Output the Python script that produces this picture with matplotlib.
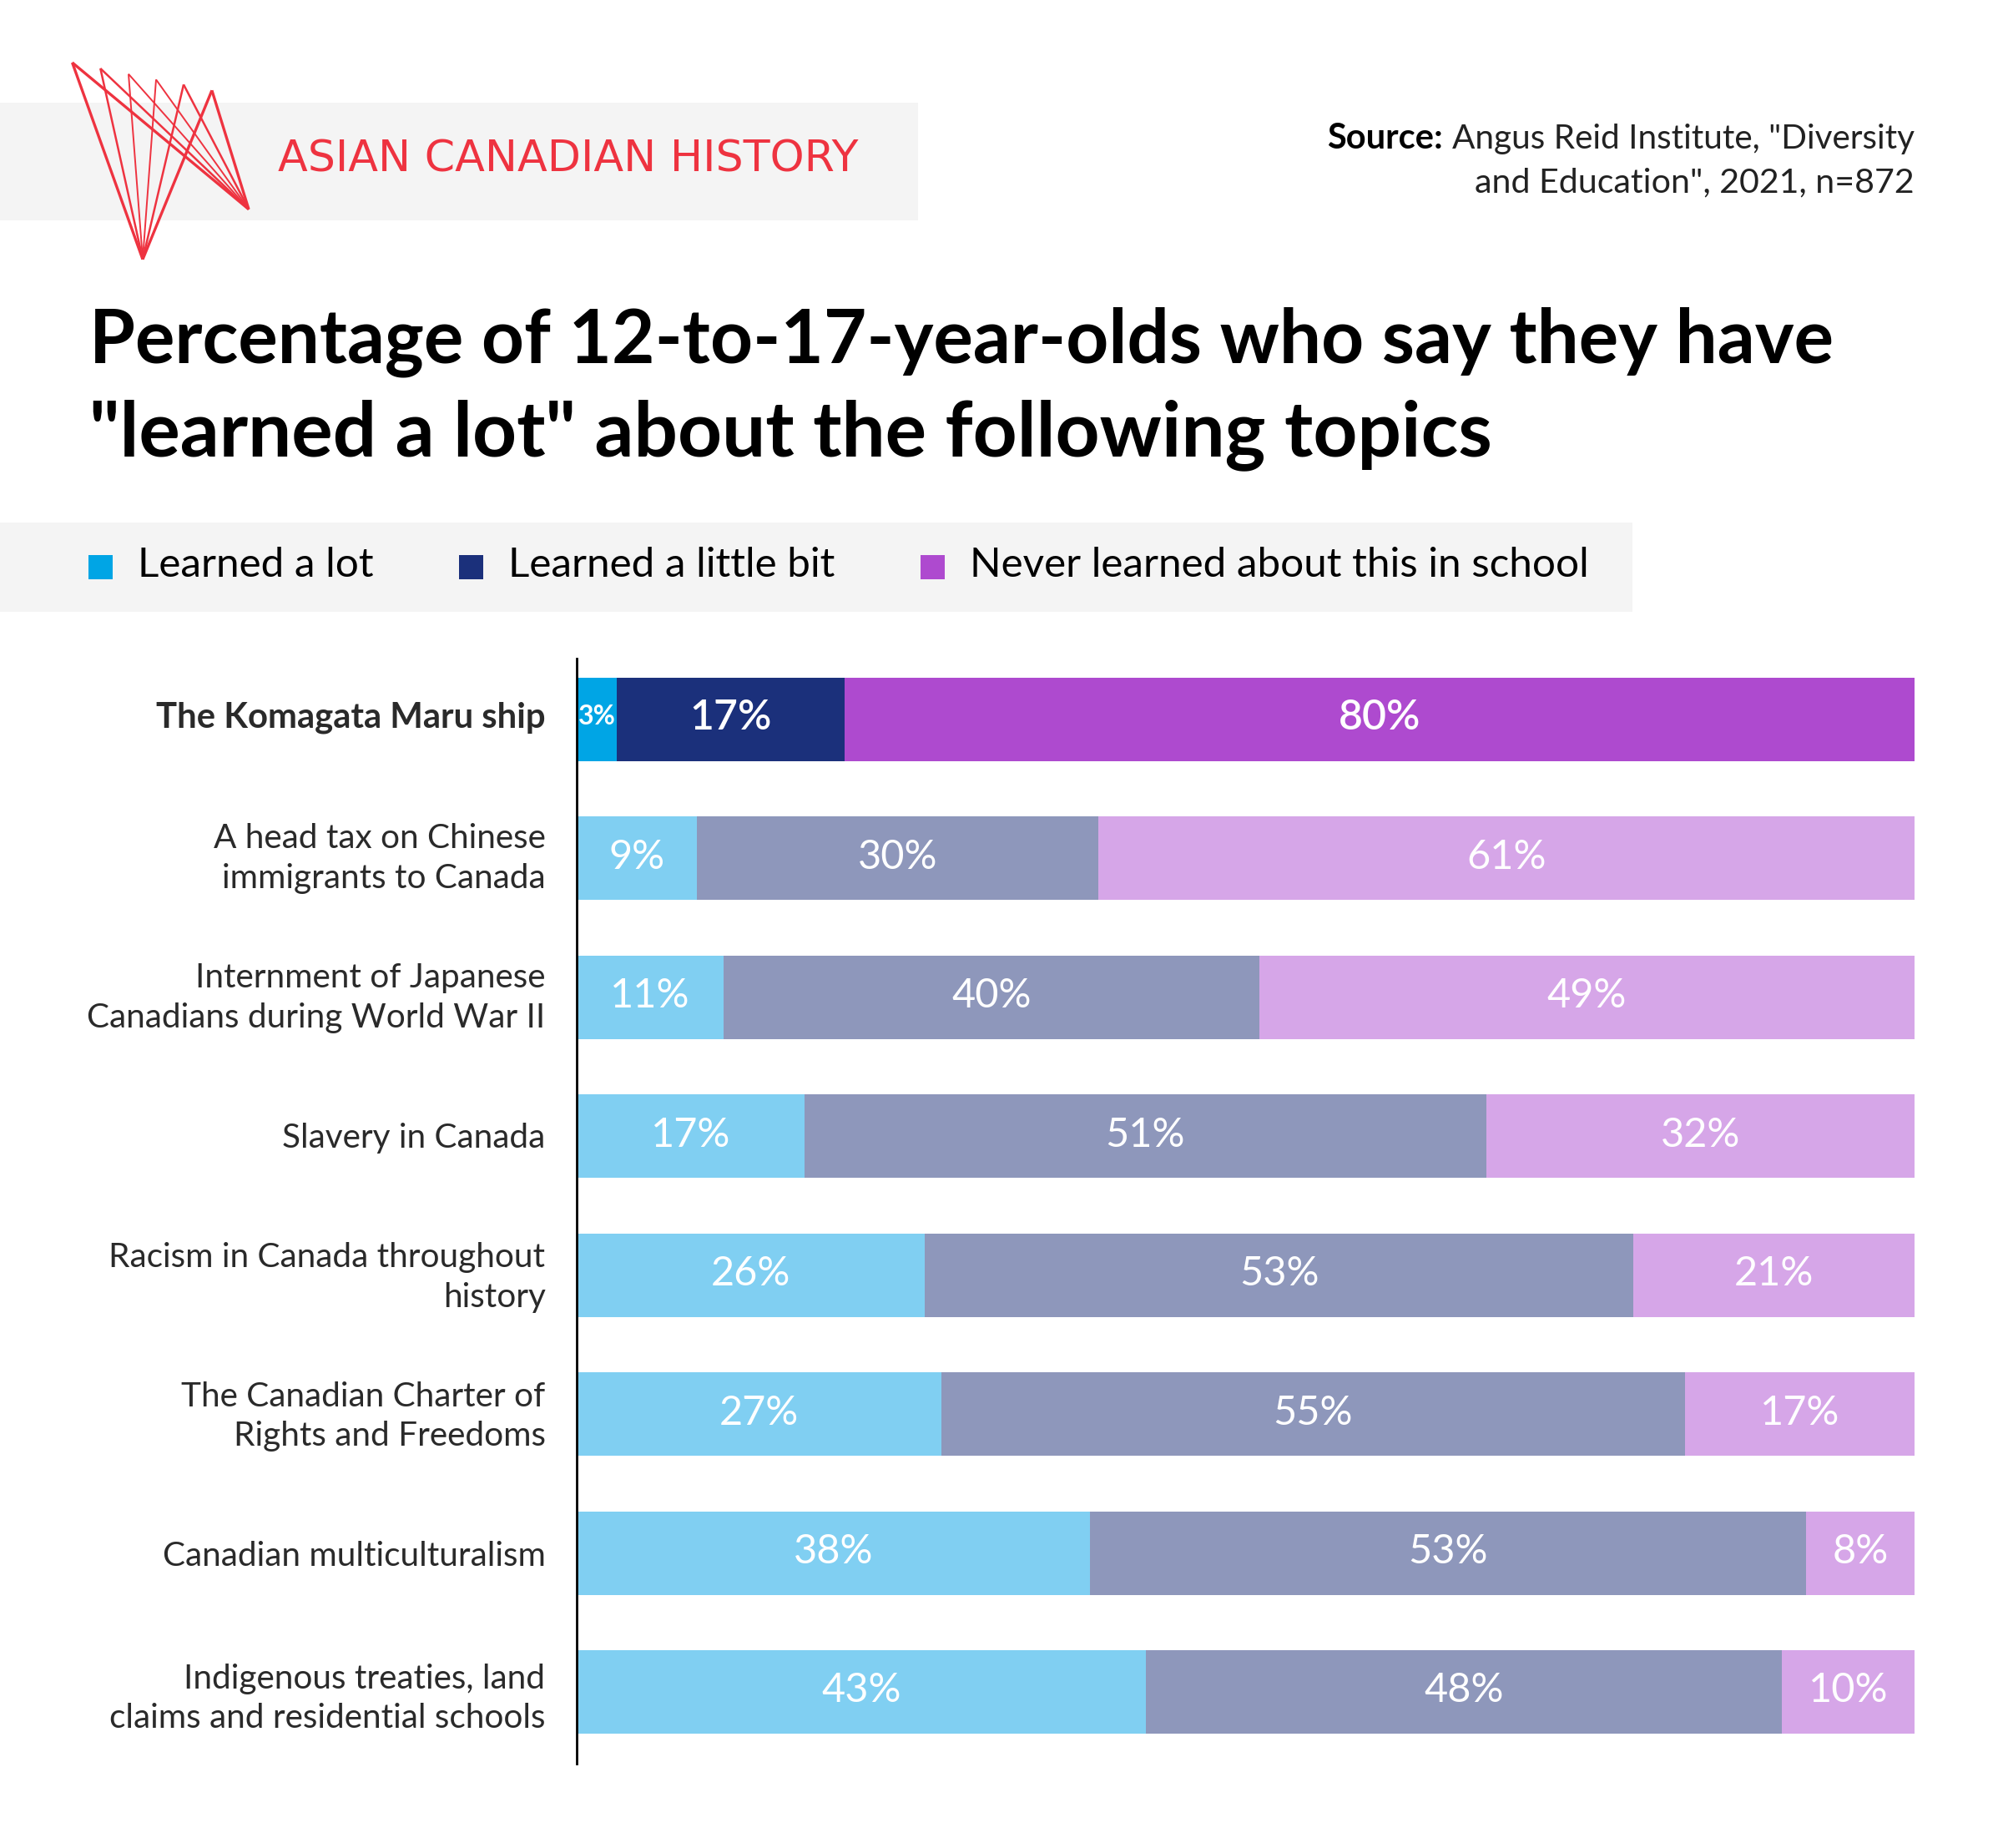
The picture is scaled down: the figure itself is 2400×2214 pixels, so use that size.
import matplotlib.pyplot as plt
from matplotlib.patches import Rectangle
from matplotlib.transforms import ScaledTranslation
import numpy as np

plt.rcParams["font.family"] = ["Lato", "DejaVu Sans"]

# -------------------------
# Data
# -------------------------
topics = [
    "The Komagata Maru ship",
    "A head tax on Chinese\nimmigrants to Canada",
    "Internment of Japanese\nCanadians during World War II",
    "Slavery in Canada",
    "Racism in Canada throughout\nhistory",
    "The Canadian Charter of\nRights and Freedoms",
    "Canadian multiculturalism",
    "Indigenous treaties, land\nclaims and residential schools",
]
learned_lot = [3, 9, 11, 17, 26, 27, 38, 43]
learned_little = [17, 30, 40, 51, 53, 55, 53, 48]
never_learned = [80, 61, 49, 32, 21, 17, 8, 10]
series_names = ["Learned a lot", "Learned a little bit", "Never learned about this in school"]

FULL_COLORS = ["#00A5E5", "#1B307B", "#AE4ACF"]
LIGHT_COLORS = ["#80CFF2", "#8E97BB", "#D6A6E8"]
RED = "#EE3340"
BAND = "#F4F4F4"

W, H = 2400, 2214
fig = plt.figure(figsize=(W / 200, H / 200), dpi=200)

# overlay in pixel coordinates for the header stuff
bg = fig.add_axes([0, 0, 1, 1])
bg.set_xlim(0, W)
bg.set_ylim(H, 0)
bg.axis("off")

# -------------------------
# Header
# -------------------------
bg.add_patch(Rectangle((0, 123), 1100, 141, color=BAND, lw=0))
bg.add_patch(Rectangle((0, 626), 1956, 107, color=BAND, lw=0))

logo_x = [86.6, 120.3, 154, 187, 220, 253.9]
logo_y = [75, 82, 88.7, 95.3, 101.3, 108.3]
logo_lw = [1.2, 0.9, 0.7, 0.7, 0.9, 1.2]
for x, y, lw in zip(logo_x, logo_y, logo_lw):
    bg.plot([x, 171], [y, 310.7], color=RED, lw=lw, solid_capstyle="butt")
    bg.plot([x, 298], [y, 250.7], color=RED, lw=lw, solid_capstyle="butt")

bg.text(333, 205, "ASIAN CANADIAN HISTORY", color=RED, fontsize=18.8, family="DejaVu Sans",
        va="baseline", ha="left")

src = bg.text(2294, 178, 'Angus Reid Institute, "Diversity', fontsize=14.6, color="#222222",
              ha="right", va="baseline")
bg.text(2294, 230, 'and Education", 2021, n=872', fontsize=14.8, color="#222222",
        ha="right", va="baseline")
fig.canvas.draw()
src_left = src.get_window_extent().x0
bg.text(src_left - 11, 178, "Source:", fontsize=15, fontweight="bold", color="black",
        ha="right", va="baseline")

bg.text(107, 434, "Percentage of 12-to-17-year-olds who say they have", fontsize=32,
        fontweight="bold", color="black", va="baseline")
bg.text(107, 546, '"learned a lot" about the following topics', fontsize=33.3,
        fontweight="bold", color="black", va="baseline")

# -------------------------
# Legend
# -------------------------
for name, col, sx, tx in zip(series_names, FULL_COLORS, [106, 550, 1103], [165, 609, 1162]):
    bg.add_patch(Rectangle((sx, 665), 29, 29, color=col, lw=0))
    bg.text(tx, 691, name, fontsize=17.8, color="black", va="baseline")

# -------------------------
# Stacked bars
# -------------------------
ax = fig.add_axes([691 / W, 1 - 2113 / H, (2294 - 691) / W, (2113 - 789) / H])
ax.patch.set_alpha(0)

values = np.array([learned_lot, learned_little, never_learned], dtype=float)
shares = values / values.sum(axis=0) * 100
ypos = np.arange(len(topics))

left = np.zeros(len(topics))
for k in range(3):
    cols = [FULL_COLORS[k]] + [LIGHT_COLORS[k]] * (len(topics) - 1)
    ax.barh(ypos, shares[k], left=left, height=100 / 166.43, color=cols, lw=0)
    for i in ypos:
        size, weight, off = 17.5, "normal", 0.075
        if i == 0:
            size, weight = 18, "semibold"
            if k == 0:
                size, weight, off = 11.5, "bold", 0.036
        ax.text(left[i] + shares[k][i] / 2, i + off, f"{int(values[k][i])}%", color="white",
                ha="center", va="baseline", fontsize=size, fontweight=weight)
    left += shares[k]

ax.set_xlim(0, 100)
ax.set_ylim(7.5167, -0.4386)
ax.set_xticks([])
ax.set_yticks(ypos)
ax.set_yticklabels(topics, fontsize=14.6, color="#2a2a2a", linespacing=1.36)
ax.tick_params(axis="y", length=0, pad=13.5)

# the labels do not sit at the same height against their bars in the original
for lab, px in zip(ax.get_yticklabels(), [6, 9, 8, 1, 6, 6, 0, 1]):
    lab.set_transform(lab.get_transform() + ScaledTranslation(0, px / 200, fig.dpi_scale_trans))
ax.get_yticklabels()[0].set_fontweight("bold")
ax.get_yticklabels()[0].set_fontsize(15.1)
for s in ["top", "right", "bottom"]:
    ax.spines[s].set_visible(False)
ax.spines["left"].set_linewidth(1.0)
ax.spines["left"].set_color("black")

fig.savefig("out.png", dpi=200)
plt.close()
